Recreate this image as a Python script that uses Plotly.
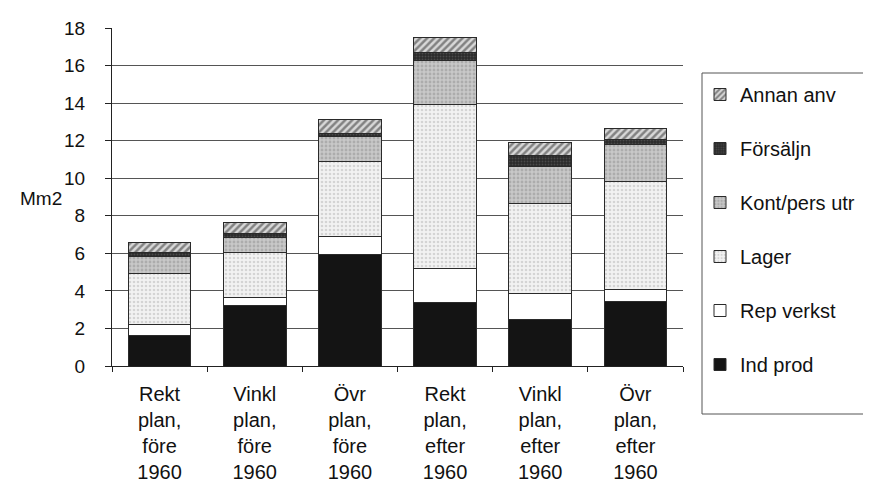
import plotly.graph_objects as go

categories = ["Rekt<br>plan,<br>före<br>1960", "Vinkl<br>plan,<br>före<br>1960", "Övr<br>plan,<br>före<br>1960",
              "Rekt<br>plan,<br>efter<br>1960", "Vinkl<br>plan,<br>efter<br>1960", "Övr<br>plan,<br>efter<br>1960"]
ind_prod = [1.65, 3.2, 5.95, 3.4, 2.5, 3.45]
rep_verkst = [0.55, 0.45, 0.95, 1.8, 1.35, 0.65]
lager = [2.75, 2.4, 4.0, 8.7, 4.8, 5.7]
kont_pers = [0.9, 0.8, 1.3, 2.35, 1.95, 2.0]
forsaljn = [0.2, 0.2, 0.2, 0.45, 0.6, 0.25]
annan_anv = [0.55, 0.6, 0.75, 0.8, 0.7, 0.6]
y_ticks = [0, 2, 4, 6, 8, 10, 12, 14, 16, 18]

FONT = "Liberation Sans, Arial, Helvetica, sans-serif"

series = [
    ("Ind prod", ind_prod, dict(color="#141414", pattern=dict(shape=""))),
    ("Rep verkst", rep_verkst, dict(color="#ffffff", pattern=dict(shape=""))),
    ("Lager", lager, dict(color="#eeeeee", pattern=dict(shape=".", fgcolor="#b5b5b5", bgcolor="#f2f2f2", size=4, solidity=0.35))),
    ("Kont/pers utr", kont_pers, dict(color="#c4c4c4", pattern=dict(shape=".", fgcolor="#8f8f8f", bgcolor="#c8c8c8", size=4, solidity=0.4))),
    ("Försäljn", forsaljn, dict(color="#303030", pattern=dict(shape=".", fgcolor="#6a6a6a", bgcolor="#2a2a2a", size=3, solidity=0.3))),
    ("Annan anv", annan_anv, dict(color="#ffffff", pattern=dict(shape="/", fgcolor="#2b2b2b", bgcolor="#d8d8d8", size=5, solidity=0.5))),
]

L, R, T, B = 104, 675, 20, 358
PW, PH = R - L, B - T

fig = go.Figure()
n = len(series)
for i, (name, vals, mk) in enumerate(series):
    fig.add_trace(go.Bar(
        x=categories, y=vals, name=name, legendgroup=f"g{i}", legendrank=n - i,
        marker=dict(line=dict(color="#2a2a2a", width=1), **mk),
    ))

fig.update_layout(
    barmode="stack",
    bargap=0.34,
    width=871, height=486,
    margin=dict(l=L, r=871 - R, t=T, b=486 - B, autoexpand=False),
    paper_bgcolor="white", plot_bgcolor="white",
    font=dict(family=FONT, color="#111111"),
    showlegend=True,
    legend=dict(
        x=(692 - L) / PW, xanchor="left", y=(B - 67) / PH, yanchor="top",
        traceorder="grouped", tracegroupgap=25,
        font=dict(size=20, family=FONT, color="#111111"),
        bgcolor="rgba(0,0,0,0)", borderwidth=0,
    ),
    shapes=[dict(type="rect", xref="paper", yref="paper",
                 x0=(694 - L) / PW, x1=(900 - L) / PW,
                 y0=(B - 406) / PH, y1=(B - 65) / PH,
                 line=dict(color="#555555", width=1), fillcolor="rgba(0,0,0,0)")],
    annotations=[dict(text="Mm2", xref="paper", yref="paper", x=(33 - L) / PW, y=(B - 190) / PH,
                      showarrow=False, font=dict(size=19, family=FONT, color="#111111"),
                      xanchor="center", yanchor="middle")],
)

fig.update_xaxes(
    automargin=False,
    showline=True, linecolor="#222222", linewidth=1,
    ticks="outside", tickson="boundaries", ticklen=5, tickcolor="#222222",
    tickfont=dict(size=20, family=FONT, color="#111111"),
    ticklabelstandoff=10,
    showgrid=False,
)
fig.update_yaxes(
    automargin=False,
    range=[0, 18], tickvals=y_ticks,
    showline=True, linecolor="#222222", linewidth=1,
    ticks="outside", ticklen=6, tickcolor="#222222",
    showgrid=True, gridcolor="#555555", gridwidth=1,
    tickfont=dict(size=19, family=FONT, color="#111111"),
    ticklabelstandoff=16,
    zeroline=False,
)

fig.write_html("out.html")
